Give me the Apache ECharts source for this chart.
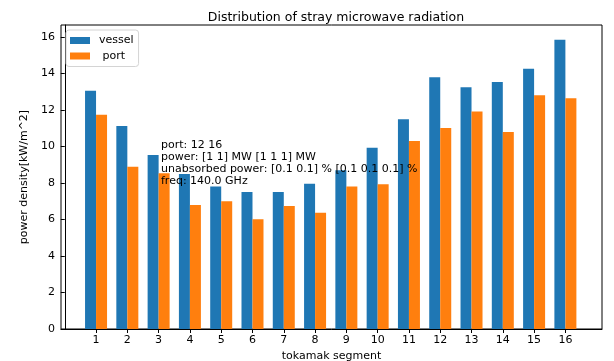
<!DOCTYPE html>
<html>
<head>
<meta charset="utf-8">
<script src="https://cdn.jsdelivr.net/npm/echarts@6/dist/echarts.min.js"></script>
<style>
  html, body { margin: 0; padding: 0; background: #fff; }
  #chart { width: 614px; height: 361px; }
</style>
</head>
<body>
<div id="chart"></div>
<script>
const segments = [1, 2, 3, 4, 5, 6, 7, 8, 9, 10, 11, 12, 13, 14, 15, 16];
const vessel = [13.05, 11.12, 9.53, 8.49, 7.8, 7.5, 7.5, 7.96, 8.7, 9.93, 11.49, 13.79, 13.24, 13.53, 14.26, 15.84];
const port = [11.73, 8.88, 8.53, 6.79, 7.0, 6.01, 6.74, 6.37, 7.8, 7.93, 10.3, 11.01, 11.91, 10.79, 12.8, 12.64];
const yTicks = [0, 2, 4, 6, 8, 10, 12, 14, 16];
const noteLines = [
  'port: 12 16',
  'power: [1 1] MW [1 1 1] MW',
  'unabsorbed power: [0.1 0.1] % [0.1 0.1 0.1] %',
  'freq: 140.0 GHz'
];

const font = 'DejaVu Sans';
const chart = echarts.init(document.getElementById('chart'), null, { renderer: 'canvas' });

const pairs = (vals) => segments.map((s, i) => [s, vals[i]]);

chart.setOption({
  animation: false,
  backgroundColor: '#fff',
  textStyle: { fontFamily: font },
  title: {
    text: 'Distribution of stray microwave radiation',
    left: 331,
    top: 6,
    textAlign: 'center',
    textStyle: { fontFamily: font, fontSize: 12.5, fontWeight: 'normal', color: '#000' }
  },
  legend: {
    orient: 'vertical',
    left: 66,
    top: 30,
    padding: [5, 5, 5, 4],
    itemWidth: 20,
    itemHeight: 7,
    itemGap: 4.5,
    icon: 'rect',
    borderColor: '#d4d4d4',
    borderWidth: 1,
    borderRadius: 3,
    backgroundColor: 'rgba(255,255,255,0.8)',
    textStyle: { fontFamily: font, fontSize: 11, color: '#000', padding: [0, 0, 0, 4] },
    data: ['vessel', ' port']
  },
  grid: {
    left: 61, right: 12, top: 25, bottom: 32,
    outerBoundsMode: 'none',
    containLabel: false,
    show: true, borderColor: '#000', borderWidth: 1, backgroundColor: 'transparent'
  },
  xAxis: {
    type: 'value',
    min: -0.12,
    max: 17.17,
    name: 'tokamak segment',
    nameLocation: 'middle',
    nameGap: 22,
    nameTextStyle: { fontFamily: font, fontSize: 11, color: '#000' },
    axisLine: { show: true, onZero: false, lineStyle: { color: '#000' } },
    axisTick: { show: true, length: 4, lineStyle: { color: '#000' }, customValues: segments },
    axisLabel: { color: '#000', fontSize: 11, fontFamily: font, margin: 6, customValues: segments },
    splitLine: { show: false }
  },
  yAxis: {
    type: 'value',
    min: 0,
    max: 16.65,
    name: 'power density[kW/m^2]',
    nameLocation: 'middle',
    nameGap: 31,
    nameTextStyle: { fontFamily: font, fontSize: 11, color: '#000' },
    axisLine: { show: true, lineStyle: { color: '#000' } },
    axisTick: { show: true, length: 4, lineStyle: { color: '#000' }, customValues: yTicks },
    axisLabel: { color: '#000', fontSize: 11, fontFamily: font, margin: 6, customValues: yTicks },
    splitLine: { show: false }
  },
  series: [
    {
      name: 'vessel',
      type: 'bar',
      data: pairs(vessel),
      barWidth: 11,
      barGap: '0%',
      itemStyle: { color: '#1f77b4' }
    },
    {
      name: ' port',
      type: 'bar',
      data: pairs(port),
      barWidth: 11,
      barGap: '0%',
      itemStyle: { color: '#ff7f0e' }
    }
  ],
  graphic: [
    {
      type: 'text',
      left: 161,
      top: 139,
      z: 100,
      style: {
        text: noteLines.join('\n'),
        fontFamily: font,
        fontSize: 11,
        lineHeight: 12,
        fill: '#000'
      }
    }
  ]
});
</script>
</body>
</html>
